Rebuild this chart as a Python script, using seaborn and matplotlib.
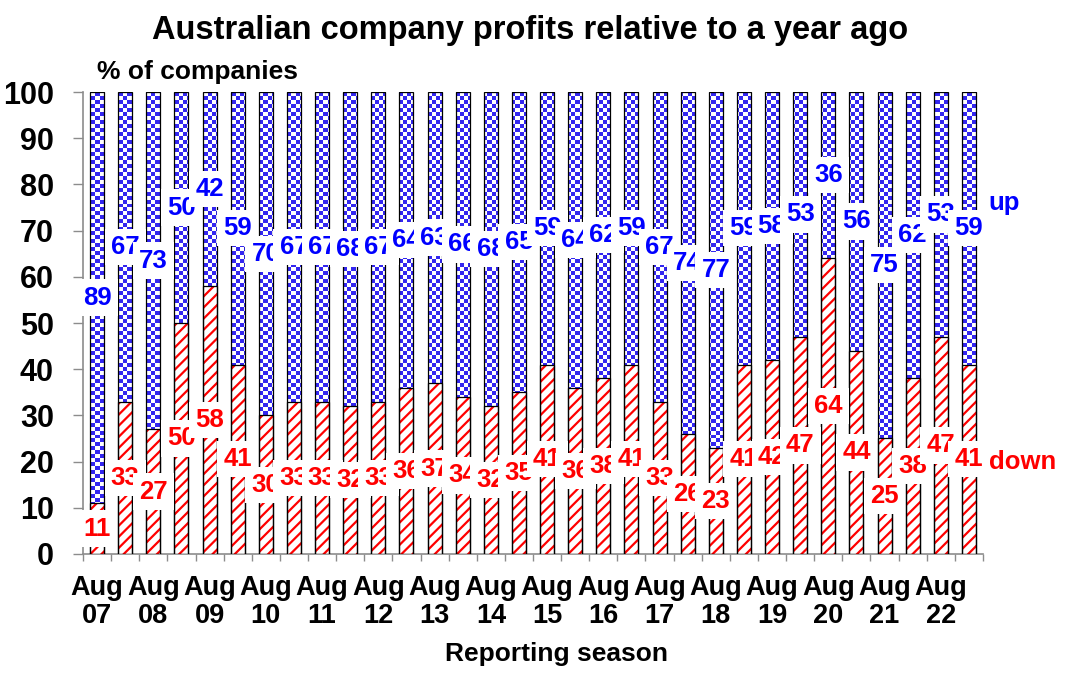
import matplotlib
matplotlib.use("Agg")
from matplotlib import pyplot as plt
from matplotlib.colors import ListedColormap
import numpy as np
import pandas as pd
import seaborn as sns

# Reporting seasons (Aug and Feb), one bar each
seasons = ["Aug 07", "Feb 08", "Aug 08", "Feb 09", "Aug 09", "Feb 10", "Aug 10", "Feb 11",
           "Aug 11", "Feb 12", "Aug 12", "Feb 13", "Aug 13", "Feb 14", "Aug 14", "Feb 15",
           "Aug 15", "Feb 16", "Aug 16", "Feb 17", "Aug 17", "Feb 18", "Aug 18", "Feb 19",
           "Aug 19", "Feb 20", "Aug 20", "Feb 21", "Aug 21", "Feb 22", "Aug 22", "Feb 23"]

# % of companies with profits down / up on a year ago
down = [11, 33, 27, 50, 58, 41, 30, 33, 33, 32, 33, 36, 37, 34, 32, 35,
        41, 36, 38, 41, 33, 26, 23, 41, 42, 47, 64, 44, 25, 38, 47, 41]
up = [89, 67, 73, 50, 42, 59, 70, 67, 67, 68, 67, 64, 63, 66, 68, 65,
      59, 64, 62, 59, 67, 74, 77, 59, 58, 53, 36, 56, 75, 62, 53, 59]

tick_labels = ["Aug\n07", "Aug\n08", "Aug\n09", "Aug\n10", "Aug\n11", "Aug\n12", "Aug\n13", "Aug\n14",
               "Aug\n15", "Aug\n16", "Aug\n17", "Aug\n18", "Aug\n19", "Aug\n20", "Aug\n21", "Aug\n22"]

df = pd.DataFrame({"season": seasons, "down": down, "up": up})
df["total"] = df["down"] + df["up"]

BLUE = "#3326f0"
RED = "#ff0000"
GREY = "#8c8c8c"

sns.set_style("ticks")
plt.rcParams["font.family"] = ["Liberation Sans", "DejaVu Sans"]
plt.rcParams["font.weight"] = "bold"
plt.rcParams["text.color"] = "black"
plt.rcParams["axes.labelcolor"] = "black"
plt.rcParams["xtick.labelcolor"] = "black"
plt.rcParams["ytick.labelcolor"] = "black"
plt.rcParams["hatch.linewidth"] = 1.6

fig = plt.figure(figsize=(10.77, 6.93), dpi=100)
ax = fig.add_axes([0.0771, 0.2006, 0.8356, 0.6666])

# full-height bars (down + up), checker texture is clipped to them
sns.barplot(data=df, x="season", y="total", ax=ax, color="white", edgecolor="black",
            linewidth=0.9, width=0.5, saturation=1, errorbar=None, zorder=5)
total_bars = ax.containers[-1]

checker = np.indices((116, 225)).sum(axis=0) % 2
cmap = ListedColormap(["white", BLUE])
for p in total_bars:
    p.set_facecolor("none")
    im = ax.imshow(checker, cmap=cmap, extent=(-0.5, 31.5, 0, 100), aspect="auto",
                   interpolation="nearest", zorder=2)
    im.set_clip_path(p)

# down part: red hatch on white, then black outline
sns.barplot(data=df, x="season", y="down", ax=ax, color="white", edgecolor=RED,
            linewidth=0, hatch="///", width=0.5, saturation=1, errorbar=None, zorder=4)
sns.barplot(data=df, x="season", y="down", ax=ax, color="white", edgecolor="black",
            linewidth=0.9, width=0.5, saturation=1, errorbar=None, zorder=6)
for p in ax.containers[-1]:
    p.set_facecolor("none")

ax.set_xlim(-0.5, 31.5)
ax.set_ylim(0, 100)
ax.set_yticks(range(0, 101, 10))
ax.set_xticks(range(0, 32, 2))
ax.set_xticklabels(tick_labels, fontsize=19.5, fontweight="bold", linespacing=1.1)
ax.set_xticks(np.arange(-0.5, 32, 1), minor=True)
ax.tick_params(axis="x", which="major", length=0, pad=15)
ax.tick_params(axis="x", which="minor", length=5, width=1, color=GREY, direction="out")
ax.tick_params(axis="y", length=7, width=1, color=GREY, direction="out", labelsize=22, pad=14)
for lab in ax.get_yticklabels():
    lab.set_fontweight("bold")

sns.despine(ax=ax)
for side in ["left", "bottom"]:
    ax.spines[side].set_color(GREY)
    ax.spines[side].set_linewidth(1.2)

ax.set_xlabel("Reporting season", fontsize=19, fontweight="bold", color="black")
ax.xaxis.set_label_coords(0.526, -0.19)
ax.set_ylabel("")

# value labels with white boxes
box = dict(boxstyle="square,pad=0.24", fc="white", ec="none")
for i, row in df.iterrows():
    ax.text(i, row["down"] / 2, str(row["down"]), ha="center", va="center", color=RED,
            fontsize=18.5, fontweight="bold", bbox=box, zorder=8)
for i, row in df.iterrows():
    ax.text(i, row["down"] + row["up"] / 2, str(row["up"]), ha="center", va="center",
            color="#0000ff", fontsize=18.5, fontweight="bold", bbox=box, zorder=8)

ax.text(31.7, 76, "up", ha="left", va="center", color="#0000ff", fontsize=18.5,
        fontweight="bold", clip_on=False)
ax.text(31.7, 20, "down", ha="left", va="center", color=RED, fontsize=18.5,
        fontweight="bold", clip_on=False)

fig.text(0.492, 0.956, "Australian company profits relative to a year ago", ha="center",
         va="center", fontsize=23.5, fontweight="bold")
fig.text(0.09, 0.896, "% of companies", ha="left", va="center", fontsize=19, fontweight="bold")

fig.savefig("out.png", dpi=100)
